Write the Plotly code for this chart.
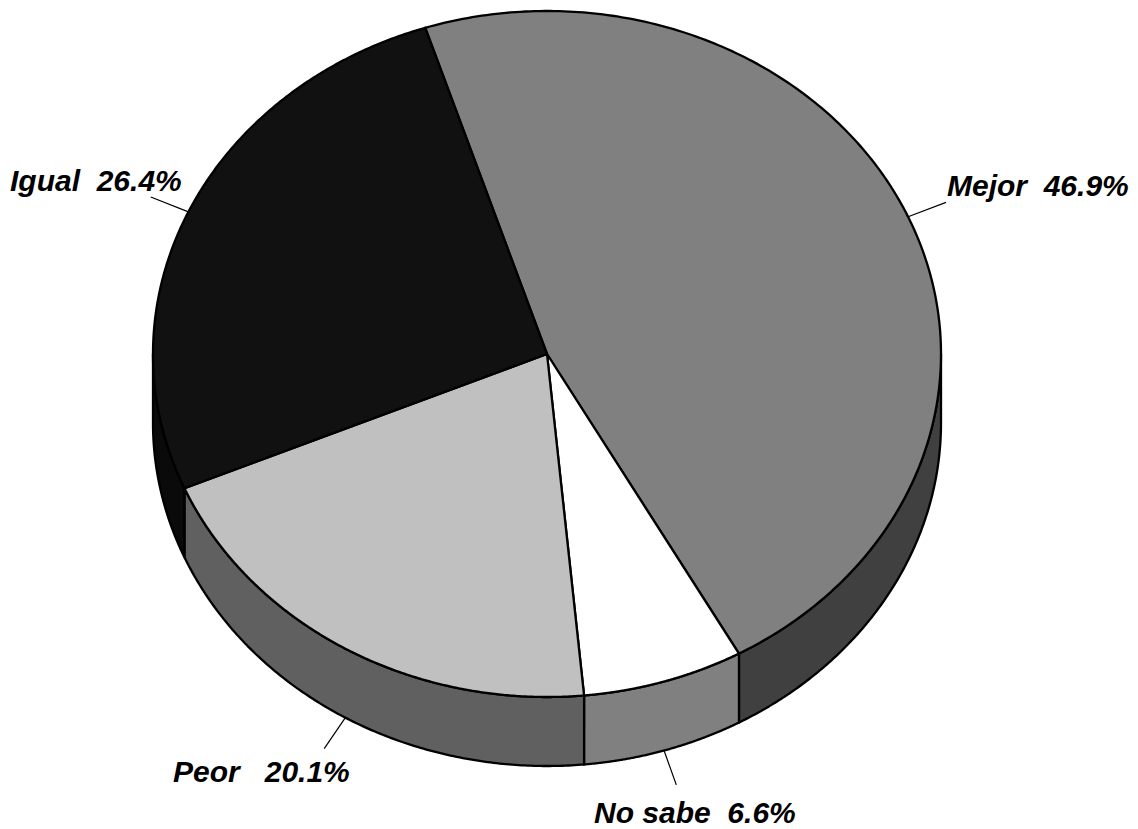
import numpy as np
import plotly.graph_objects as go

categories = ["Mejor", "No sabe", "Peor", "Igual"]
values = [46.9, 6.6, 20.1, 26.4]
label_gaps = [2, 2, 3, 2]
top_colors = ["#808080", "#ffffff", "#c0c0c0", "#111111"]
side_colors = ["#404040", "#808080", "#606060", "#0a0a0a"]
label_centers = [(1038, 185), (695, 812), (261, 771), (95.5, 180)]

CX, CY, RX, RY, DEPTH = 547, 354, 394, 343, 69
START = -18.0
LEADER = 1.105


def ell(t, dy=0.0):
    r = np.radians(t)
    return CX + RX * np.sin(r), CY - RY * np.cos(r) + dy


total = sum(values)
edges = [START]
for v in values:
    edges.append(edges[-1] + v / total * 360)

fig = go.Figure()


def poly(xs, ys, fill, width=2.3):
    fig.add_trace(go.Scatter(
        x=xs, y=ys, mode="lines", fill="toself", fillcolor=fill,
        line=dict(color="#000000", width=width, simplify=False),
        hoverinfo="skip", showlegend=False))


# Side walls (only the front half of the rim, t between 90 and 270)
for i in range(len(values)):
    a, b = max(edges[i], 90), min(edges[i + 1], 270)
    if b <= a:
        continue
    t = np.linspace(a, b, 160)
    x1, y1 = ell(t)
    x2, y2 = ell(t[::-1], DEPTH)
    poly(np.r_[x1, x2, x1[0]], np.r_[y1, y2, y1[0]], side_colors[i])

# Top face
for i in range(len(values)):
    t = np.linspace(edges[i], edges[i + 1], 240)
    x, y = ell(t)
    poly(np.r_[CX, x, CX], np.r_[CY, y, CY], top_colors[i])

# Leader lines and labels
annotations = []
for i, (name, v) in enumerate(zip(categories, values)):
    mid = (edges[i] + edges[i + 1]) / 2
    front = np.cos(np.radians(mid)) < 0
    d = DEPTH if front else 0
    x0, y0 = ell(mid, d)
    x1 = CX + LEADER * (x0 - CX)
    y1 = CY + d + LEADER * (y0 - d - CY)
    fig.add_trace(go.Scatter(
        x=[x0, x1], y=[y0, y1], mode="lines",
        line=dict(color="#000000", width=1.2),
        hoverinfo="skip", showlegend=False))
    annotations.append(dict(
        x=label_centers[i][0], y=label_centers[i][1], xref="x", yref="y",
        text=f"{name}{chr(160) * label_gaps[i]}{v:.1f}%", showarrow=False,
        xanchor="center", yanchor="middle",
        font=dict(family="Liberation Sans", size=30, color="#000000",
                  weight=700, style="italic")))

fig.update_layout(
    width=1138, height=829, autosize=False,
    margin=dict(l=0, r=0, t=0, b=0),
    paper_bgcolor="#ffffff", plot_bgcolor="#ffffff",
    showlegend=False, annotations=annotations,
    xaxis=dict(range=[0, 1138], visible=False, fixedrange=True),
    yaxis=dict(range=[829, 0], visible=False, fixedrange=True),
)
fig.write_html(
    "out.html",
    config={"displayModeBar": False},
    post_script="document.body.style.margin='0';"
                "document.documentElement.style.overflow='hidden';",
)
